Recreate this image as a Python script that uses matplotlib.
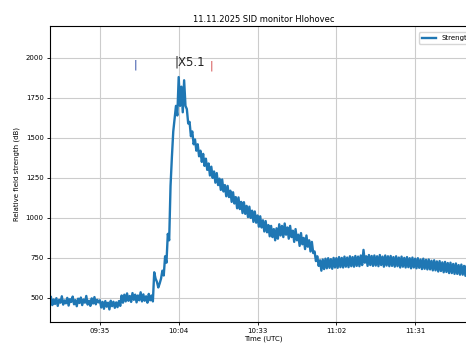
import numpy as np
import pandas as pd
import matplotlib
matplotlib.use("Agg")
import matplotlib.pyplot as plt
import matplotlib.dates as mdates

# relative field strength, one reading every 30 s starting 09:17 UTC
baseline = [505, 455, 490, 462, 498, 450, 488, 470, 510, 458, 484, 466, 500, 452, 492, 475, 508, 460,
            486, 448, 495, 468, 502, 455, 490, 470, 512, 458, 482, 450, 497, 465, 505, 460, 488, 472,
            485, 440, 475, 432, 480, 445, 470, 428, 482, 448, 476, 438, 472, 442, 480, 450,
            515, 470, 520, 478, 528, 482, 512, 475, 530, 488, 520, 472,
            515, 485, 535, 478, 522, 482, 510, 470, 525, 485, 515, 478]
rise = [660, 620, 600, 565, 590, 620, 670, 640, 760, 720, 900, 860,
        1200, 1380, 1540, 1620, 1700, 1640, 1880, 1700, 1820, 1660, 1860, 1700]
decay = [1680, 1590, 1600, 1510, 1540, 1460, 1490, 1420, 1460, 1385,
         1420, 1350, 1400, 1325, 1370, 1300, 1340, 1265, 1320, 1250,
         1290, 1220, 1280, 1205, 1245, 1175, 1240, 1165, 1205, 1135,
         1200, 1130, 1170, 1100, 1160, 1090, 1130, 1060, 1128, 1055,
         1100, 1030, 1098, 1025, 1075, 1005, 1070, 1000, 1045, 975,
         1040, 970, 1015, 945, 1010, 940, 985, 915, 980, 910,
         955, 885, 950, 880, 930, 860, 935, 870, 960, 890,
         950, 880, 965, 895, 940, 870, 950, 880, 920, 850,
         930, 860, 895, 825, 905, 835, 875, 805, 890, 820,
         860, 790, 850, 780, 790, 730, 760, 700, 735, 670]
tail = [740, 680, 745, 685, 748, 688, 742, 682, 750, 690, 748, 688, 755, 692, 750, 690,
        758, 695, 752, 692, 760, 698, 755, 695, 762, 700, 758, 698, 765, 705, 800, 720,
        760, 700, 768, 705, 762, 700, 765, 702, 760, 698, 768, 705, 758, 695, 765, 702,
        760, 698, 762, 700, 755, 695, 760, 698, 752, 690, 758, 695, 750, 690, 755, 692,
        748, 685, 752, 690, 745, 685, 748, 688, 740, 680, 745, 682, 738, 678, 740, 678,
        732, 672, 735, 672, 728, 665, 730, 668, 722, 660, 725, 662, 718, 655, 720, 655,
        712, 650, 715, 650, 705, 645, 708, 645, 700, 638, 702, 640, 695, 632, 690, 628]
values = baseline + rise + decay + tail
times = pd.date_range("2025-11-11 09:17", periods=len(values), freq="30s")

tick_times = ["09:35", "10:04", "10:33", "11:02", "11:31"]
flare_start = "09:48"
flare_peak = "10:02:30"
flare_end = "10:16"
flare_class = "X5.1"

day = "2025-11-11 "
fig = plt.figure(figsize=(4.66, 3.45), dpi=100)
ax = fig.add_axes([0.107, 0.067, 0.918, 0.858])
ax.plot(times, values, color="#1f77b4", lw=1.7, label="Strength")

ax.set_xlim(pd.Timestamp(day + "09:16:36"), pd.Timestamp(day + "11:54"))
ax.set_ylim(350, 2200)
ax.set_xticks([pd.Timestamp(day + t) for t in tick_times])
ax.xaxis.set_major_formatter(mdates.DateFormatter("%H:%M"))
ax.set_yticks([500, 750, 1000, 1250, 1500, 1750, 2000])
ax.tick_params(labelsize=5, length=2.5, width=0.6, pad=2)
ax.grid(True, color="#cccccc", lw=0.8)
for s in ax.spines.values():
    s.set_linewidth(0.8)

ax.text(pd.Timestamp(day + flare_start), 1960, "|", color="#1f3f9f", fontsize=8, ha="center", va="center")
ax.text(pd.Timestamp(day + flare_peak), 1975, "|" + flare_class, color="#222222", fontsize=8.5, ha="left", va="center")
ax.text(pd.Timestamp(day + flare_end), 1950, "|", color="#d04040", fontsize=8, ha="center", va="center")

ax.set_title("11.11.2025 SID monitor Hlohovec", fontsize=6, pad=3)
ax.set_xlabel("Time (UTC)", fontsize=5, labelpad=1)
ax.set_ylabel("Relative field strength (dB)", fontsize=5, labelpad=4)
ax.legend(loc="upper right", fontsize=5, bbox_to_anchor=(1.0, 0.99))

fig.savefig("out.png", dpi=100)
